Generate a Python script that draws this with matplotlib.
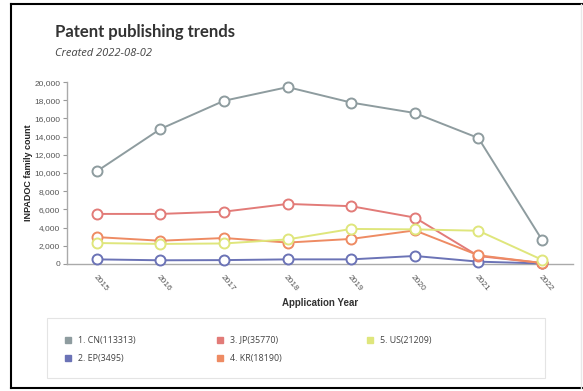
import numpy as np
import matplotlib.pyplot as plt
from matplotlib.lines import Line2D
from matplotlib.patches import Rectangle

# Publishing counts per application year
years = [2015, 2016, 2017, 2018, 2019, 2020, 2021, 2022]
cn = [10200, 14850, 17950, 19450, 17750, 16600, 13850, 2663]
ep = [500, 400, 420, 500, 500, 875, 250, 50]
jp = [5500, 5500, 5750, 6600, 6350, 5100, 870, 100]
kr = [2950, 2550, 2850, 2350, 2750, 3690, 950, 100]
us = [2300, 2200, 2250, 2700, 3850, 3800, 3650, 459]

series_names = ['1. CN(113313)', '2. EP(3495)', '3. JP(35770)', '4. KR(18190)', '5. US(21209)']
series_vals = [cn, ep, jp, kr, us]
series_cols = ['#8e9c9f', '#6b73b6', '#e27b78', '#ee8b63', '#dfe67c']
draw_order = [0, 4, 3, 2, 1]

fig = plt.figure(figsize=(5.83, 3.91), dpi=100)
ax = fig.add_axes([0.115, 0.325, 0.868, 0.465])

x = np.arange(len(years))
for i in draw_order:
    ax.plot(x, series_vals[i], color=series_cols[i], lw=1.4,
            marker='o', ms=7.2, mfc='white', mec=series_cols[i], mew=1.4,
            clip_on=False, zorder=3 + i)

ax.set_xlim(-0.47, len(years) - 0.51)
ax.set_ylim(0, 20000)
ax.set_yticks(np.arange(0, 20001, 2000))
ax.set_yticklabels([f'{v:,}' for v in range(0, 20001, 2000)],
                   fontsize=6, color='#555555', family='Liberation Sans')
ax.set_xticks(x)
ax.set_xticklabels([str(y) for y in years], rotation=-50, ha='left',
                   rotation_mode='anchor', fontsize=6, color='#555555',
                   family='Liberation Sans')
ax.tick_params(axis='y', length=3, width=0.8, color='#999999', pad=2)
ax.tick_params(axis='x', length=0, pad=7)
for s in ['top', 'right']:
    ax.spines[s].set_visible(False)
for s in ['left', 'bottom']:
    ax.spines[s].set_color('#aaaaaa')
    ax.spines[s].set_linewidth(1)

ax.set_ylabel('INPADOC family count', fontsize=6.5, fontweight='bold',
              family='Liberation Sans', color='#222222')
ax.yaxis.set_label_coords(-0.068, 0.5)
ax.set_xlabel('Application Year', fontsize=7, fontweight='bold',
              family='Liberation Sans', color='#333333', labelpad=4)

fig.text(0.094, 0.918, 'Patent publishing trends', fontsize=12,
         fontweight='bold', family='Lato', color='#333333', va='center')
fig.text(0.094, 0.862, 'Created 2022-08-02', fontsize=8, style='italic',
         family='Open Sans', color='#444444', va='center')

# legend panel, three evenly spaced columns
fig.add_artist(Rectangle((0.081, 0.034), 0.854, 0.152, transform=fig.transFigure,
                         fill=False, ec='#e4e4e4', lw=0.8))
columns = [[0, 1], [2, 3], [4]]
col_x = [0.095, 0.356, 0.613]
for cols, cx in zip(columns, col_x):
    handles = [Line2D([], [], ls='', marker='s', ms=5, color=series_cols[i]) for i in cols]
    fig.legend(handles, [series_names[i] for i in cols], frameon=False,
               loc='upper left', bbox_to_anchor=(cx, 0.16),
               prop={'family': 'Open Sans', 'size': 6.4}, labelcolor='#444444',
               handletextpad=0.6, labelspacing=1.0, handlelength=1)

# outer border
fig.add_artist(Line2D([0.019, 0.019], [0.008, 0.99], color='black', lw=1.5,
                      transform=fig.transFigure))
fig.add_artist(Line2D([0.019, 1.0], [0.99, 0.99], color='black', lw=1.5,
                      transform=fig.transFigure))
fig.add_artist(Line2D([0.019, 1.0], [0.008, 0.008], color='black', lw=1.5,
                      transform=fig.transFigure))
fig.add_artist(Line2D([0.997, 0.997], [0.008, 0.99], color='#e8e8e8', lw=1,
                      transform=fig.transFigure))

fig.savefig('out.png', dpi=100)
